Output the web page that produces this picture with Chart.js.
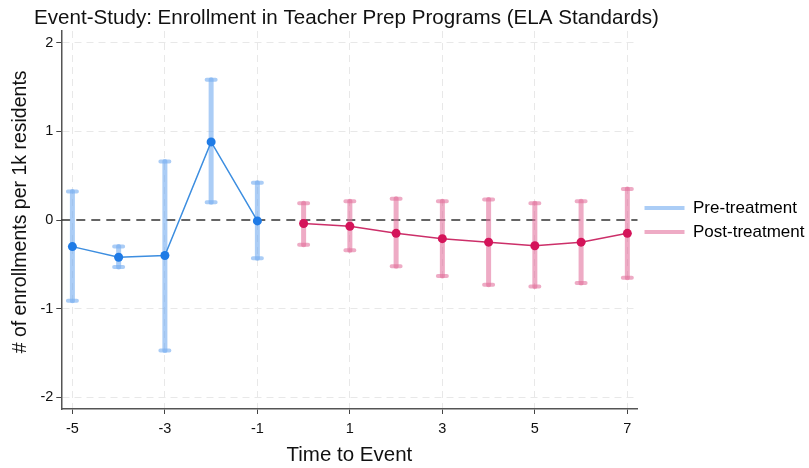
<!DOCTYPE html>
<html>
<head>
<meta charset="utf-8">
<script src="https://cdn.jsdelivr.net/npm/chart.js@4"></script>
<style>
  body { margin: 0; background: #fff; }
  #wrap { width: 809px; height: 468px; }
</style>
</head>
<body>
<div id="wrap"><canvas id="myChart"></canvas></div>
<script>
// event time (years relative to adoption)
var preX = [-5, -4, -3, -2, -1];
var preEst = [-0.30, -0.42, -0.40, 0.88, -0.01];
var preLo = [-0.91, -0.53, -1.47, 0.20, -0.43];
var preHi = [0.32, -0.30, 0.66, 1.58, 0.42];

var postX = [0, 1, 2, 3, 4, 5, 6, 7];
var postEst = [-0.04, -0.07, -0.15, -0.21, -0.25, -0.29, -0.25, -0.15];
var postLo = [-0.28, -0.34, -0.52, -0.63, -0.73, -0.75, -0.71, -0.65];
var postHi = [0.19, 0.21, 0.24, 0.21, 0.23, 0.19, 0.21, 0.35];

var xTicks = [-5, -3, -1, 1, 3, 5, 7];
var yTicks = [-2, -1, 0, 1, 2];
var refLine = 0;

var chartTitle = 'Event-Study: Enrollment in Teacher Prep Programs (ELA Standards)';

var preCI = 'rgba(120, 175, 240, 0.62)';
var postCI = 'rgba(225, 110, 155, 0.58)';

function pts(xs, ys) {
    var out = [];
    for (var i = 0; i < xs.length; i++) out.push({x: xs[i], y: ys[i]});
    return out;
}

// reference line + confidence intervals under the points, title on top
var errorBars = {
    id: 'errorBars',
    beforeDatasetsDraw: function (chart) {
        var c = chart.ctx;
        var xs = chart.scales.x, ys = chart.scales.y;
        var area = chart.chartArea;

        c.save();
        c.strokeStyle = '#333';
        c.lineWidth = 1.5;
        c.setLineDash([9, 6]);
        var y0 = ys.getPixelForValue(refLine);
        c.beginPath();
        c.moveTo(area.left, y0);
        c.lineTo(area.right, y0);
        c.stroke();
        c.restore();

        var groups = [
            [preX, preLo, preHi, preCI],
            [postX, postLo, postHi, postCI]
        ];
        groups.forEach(function (g) {
            c.save();
            c.strokeStyle = g[3];
            c.lineCap = 'round';
            for (var i = 0; i < g[0].length; i++) {
                var px = xs.getPixelForValue(g[0][i]);
                var lo = ys.getPixelForValue(g[1][i]);
                var hi = ys.getPixelForValue(g[2][i]);
                c.lineWidth = 5;
                c.beginPath();
                c.moveTo(px, lo);
                c.lineTo(px, hi);
                c.stroke();
                c.lineWidth = 4;
                c.beginPath();
                c.moveTo(px - 4.5, lo);
                c.lineTo(px + 4.5, lo);
                c.moveTo(px - 4.5, hi);
                c.lineTo(px + 4.5, hi);
                c.stroke();
            }
            c.restore();
        });
    },
    afterDraw: function (chart) {
        var c = chart.ctx;
        c.save();
        c.fillStyle = '#111';
        c.font = '20.6px "Liberation Sans"';
        c.textBaseline = 'alphabetic';
        c.fillText(chartTitle, 34, 24);
        c.restore();
    }
};

var ctx = document.getElementById('myChart');

var chart = new Chart(ctx, {
    type: 'line',
    data: {
        datasets: [{
            label: 'Pre-treatment',
            data: pts(preX, preEst),
            borderColor: '#3d8ee0',
            backgroundColor: '#1f7be6',
            borderWidth: 1.5,
            pointRadius: 4.5,
            pointBorderWidth: 0,
            tension: 0
        }, {
            label: 'Post-treatment',
            data: pts(postX, postEst),
            borderColor: '#cc2f69',
            backgroundColor: '#d4145a',
            borderWidth: 1.5,
            pointRadius: 4.5,
            pointBorderWidth: 0,
            tension: 0
        }]
    },
    options: {
        responsive: true,
        maintainAspectRatio: false,
        animation: false,
        layout: { padding: { left: 9, right: -5.5, top: 31, bottom: 0 } },
        plugins: {
            title: { display: false },
            legend: {
                position: 'right',
                fullSize: false,
                labels: {
                    color: '#111',
                    font: { family: 'Liberation Sans', size: 17 },
                    boxWidth: 40,
                    boxHeight: 4,
                    padding: 7,
                    generateLabels: function () {
                        return [
                            { text: 'Pre-treatment', fillStyle: preCI, strokeStyle: preCI, lineWidth: 0, datasetIndex: 0 },
                            { text: 'Post-treatment', fillStyle: postCI, strokeStyle: postCI, lineWidth: 0, datasetIndex: 1 }
                        ];
                    }
                }
            },
            tooltip: { enabled: false }
        },
        scales: {
            x: {
                type: 'linear',
                min: -5.24,
                max: 7.22,
                afterBuildTicks: function (axis) {
                    axis.ticks = xTicks.map(function (v) { return {value: v}; });
                },
                ticks: {
                    color: '#111',
                    font: { family: 'Liberation Sans', size: 14.5 },
                    padding: 6
                },
                grid: {
                    color: '#e8e8e8',
                    tickColor: '#444',
                    tickLength: 5,
                    lineWidth: 1
                },
                border: { color: '#555', width: 1.5, dash: [7, 5] },
                title: {
                    display: true,
                    text: 'Time to Event',
                    color: '#111',
                    font: { family: 'Liberation Sans', size: 20.5 },
                    padding: { top: 0, bottom: 0 }
                }
            },
            y: {
                min: -2.13,
                max: 2.13,
                afterBuildTicks: function (axis) {
                    axis.ticks = yTicks.map(function (v) { return {value: v}; });
                },
                ticks: {
                    color: '#111',
                    font: { family: 'Liberation Sans', size: 14.5 },
                    padding: 3
                },
                grid: {
                    color: function (c) {
                        return c.tick && c.tick.value === refLine ? 'rgba(0,0,0,0)' : '#e8e8e8';
                    },
                    tickColor: '#444',
                    tickLength: 5,
                    lineWidth: 1
                },
                border: { color: '#555', width: 1.5, dash: [7, 5] },
                title: {
                    display: true,
                    text: '   # of enrollments per 1k residents',
                    color: '#111',
                    font: { family: 'Liberation Sans', size: 19.5 },
                    padding: { top: 0, bottom: 5 }
                }
            }
        }
    },
    plugins: [errorBars]
});
</script>
</body>
</html>
